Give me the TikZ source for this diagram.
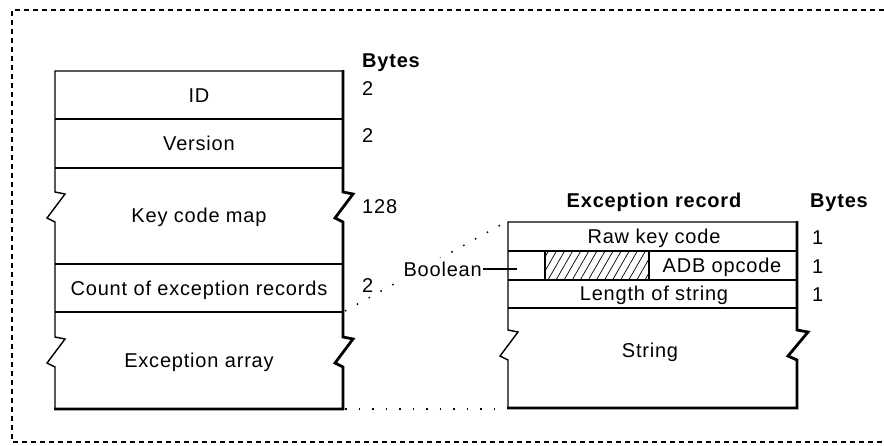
\documentclass[tikz,border=0pt]{standalone}
\usepackage{fontspec}
\setmainfont{Liberation Sans}
\newfontfamily\fieldfont[LetterSpace=4]{Liberation Sans}
\usetikzlibrary{patterns.meta}

\begin{document}
\begin{tikzpicture}[
    x=1pt, y=-1pt,
    field/.style={font=\fieldfont\fontsize{20}{22}\selectfont, inner sep=0pt, anchor=base},
    size/.style={font=\fieldfont\fontsize{20}{22}\selectfont, inner sep=0pt, anchor=base west},
    head/.style={font=\fieldfont\fontsize{20}{22}\selectfont\bfseries, inner sep=0pt, anchor=base},
    thinline/.style={line width=1.4pt},
    shadeline/.style={line width=2.8pt},
    zoomline/.style={line width=1.5pt, dash pattern=on 1.5pt off 12pt},
    frameline/.style={line width=1.4pt, dash pattern=on 5pt off 4pt}
]
\useasboundingbox (0,0) rectangle (884,445);
\draw[frameline] (884,10) -- (12,10) -- (12,442) -- (884,442);

% key map resource
\draw[thinline] (343,71) -- (55,71) -- (55,192) -- ++(10,2) -- ++(-18,24) -- ++(8,4)
    -- (55,337) -- ++(10,2) -- ++(-18,24) -- ++(8,4) -- (55,409);
\draw[shadeline] (343,70) -- (343,192) -- ++(10,2) -- ++(-18,24) -- ++(8,4)
    -- (343,337) -- ++(10,2) -- ++(-18,24) -- ++(8,4) -- (343,409) -- (54,409);
\foreach \y in {119,168,264,312}
    \draw[thinline] (55,\y) -- (343,\y);

\node[field] (id)       at (199,102) {ID};
\node[field] (version)  at (199,150) {Version};
\node[field] (keymap)   at (199,222) {Key code map};
\node[field] (count)    at (199,295) {Count of exception records};
\node[field] (excarray) at (199,367) {Exception array};

\node[head, anchor=base west] (bytesmap) at (362,67) {Bytes};
\node[size] (szid)      at (362,95)  {2};
\node[size] (szversion) at (362,142) {2};
\node[size] (szkeymap)  at (362,213) {128};
\node[size] (szcount)   at (362,292) {2};

% exception record
\draw[thinline] (797,222) -- (508,222) -- (508,330) -- ++(10,2) -- ++(-18,24) -- ++(8,4) -- (508,408);
\draw[shadeline] (797,221) -- (797,330) -- ++(11,2) -- ++(-20,24) -- ++(9,4) -- (797,408) -- (507,408);
\foreach \y in {251,280,308}
    \draw[thinline] (508,\y) -- (797,\y);
\draw[thinline, pattern={Lines[angle=60, distance=7pt, line width=0.7pt]}]
    (545,251) rectangle (649,280);

\node[head] (rectitle) at (654,207) {Exception record};
\node[head, anchor=base west] (bytesrec) at (810,207) {Bytes};
\node[field] (rawkey)  at (654,243) {Raw key code};
\node[field] (adb)     at (722,272) {ADB opcode};
\node[field] (strlen)  at (654,300) {Length of string};
\node[field] (string)  at (650,357) {String};
\node[size] (szrawkey) at (812,244) {1};
\node[size] (szadb)    at (812,273) {1};
\node[size] (szstrlen) at (812,301) {1};

% expansion lines
\coordinate (arrtop) at (345,311);
\coordinate (arrbot) at (345,409);
\coordinate (rectop) at (506,222);
\coordinate (recbot) at (506,409);
\draw[zoomline] (arrtop) -- (rectop);
\draw[zoomline] (arrbot) -- (recbot);

\node[field, anchor=base east, fill=white, inner sep=4pt] (boolean) at (486,276) {Boolean};
\coordinate (boolbit) at (517,270);
\draw[thinline] ([xshift=-3pt]boolean.east) -- (boolbit |- boolean.east);
\end{tikzpicture}
\end{document}
